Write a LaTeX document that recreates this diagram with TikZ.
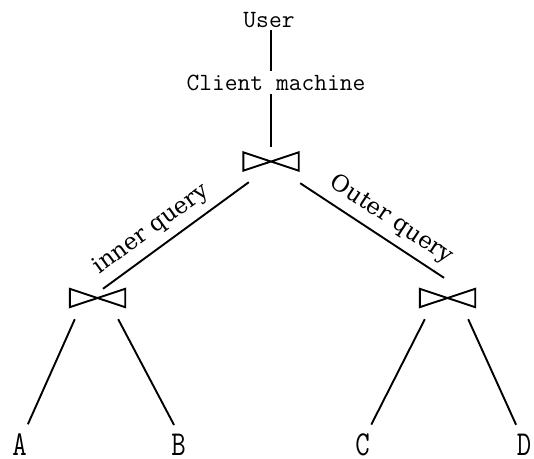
\documentclass[tikz,border=0pt]{standalone}
\usepackage{fontspec}
\usepackage{graphicx}
\usepackage{tikz}
\newfontfamily\queryfont{DejaVu Serif}

\begin{document}
\begin{tikzpicture}[x=1pt,y=-1pt,
  tag/.style={font=\ttfamily\fontsize{24.8}{28}\selectfont,anchor=base,inner sep=3pt},
  leaf/.style={font=\ttfamily\fontsize{28}{32}\selectfont,anchor=base,inner sep=0pt},
  bowtie/.style={minimum width=55pt,minimum height=18pt,inner sep=0pt},
  query/.style={font=\queryfont\fontsize{23}{26}\selectfont,sloped,above=5pt,inner sep=2.5pt},
  edge/.style={line width=1.9pt},
  down/.style={edge,shorten >=9.5pt}]

\useasboundingbox (0,0) rectangle (534,458);

\node[tag] (user) at (269,27) {User};
\node[tag] (cm) at (276,90) {Client machine};

\node[bowtie] (jtop) at (271,161.5) {};
\node[bowtie] (jinner) at (97.5,298) {};
\node[bowtie] (jouter) at (447.5,298) {};

\node[leaf] (A) at (19.5,455) {\scalebox{1}[1.25]{A}};
\node[leaf] (B) at (178.5,455) {\scalebox{1}[1.25]{B}};
\node[leaf] (C) at (362.5,455) {\scalebox{1}[1.25]{C}};
\node[leaf] (D) at (524,455) {\scalebox{1}[1.25]{D}};

\foreach \j in {jtop,jinner,jouter}
  \draw[edge] (\j.north west) -- (\j.south east) -- (\j.north east) -- (\j.south west) -- cycle;

\draw[edge] (user.south -| jtop) -- (cm.north -| jtop);
\draw[edge,shorten >=5.5pt] (cm.south -| jtop) -- (jtop.north);
\draw[edge] ([xshift=5.5pt]jinner.north)
  -- node[query,pos=0.41] (innerq) {inner query} ([shift={(5.5,11.5)}]jtop.south west);
\draw[edge] ([shift={(1.5,12.5)}]jtop.south east)
  -- node[query,pos=0.56] (outerq) {Outer query} ([shift={(-3.5,-11)}]jouter.north);

\draw[down] ([shift={(5,12)}]jinner.south west) -- ([xshift=4.5pt]A.north);
\draw[down] ([shift={(-7,12)}]jinner.south east) -- (B.north);
\draw[down] ([shift={(5,12)}]jouter.south west) -- ([xshift=4.5pt]C.north);
\draw[down] ([shift={(-7,12)}]jouter.south east) -- ([xshift=-4pt]D.north);
\end{tikzpicture}
\end{document}
